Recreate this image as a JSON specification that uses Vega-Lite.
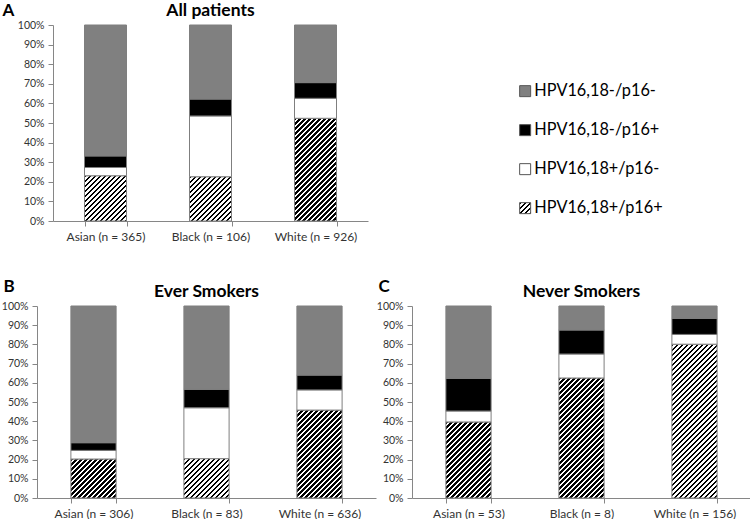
{
  "$schema": "https://vega.github.io/schema/vega-lite/v6.json",
  "padding": {"left": 1, "top": 1, "right": 0, "bottom": 0},
  "params": [
    {"name": "hatchStops", "value": [
      {"offset":0,"color":"#000"},{"offset":0.0102,"color":"#000"},{"offset":0.0102,"color":"#fff"},{"offset":0.0227,"color":"#fff"},
      {"offset":0.0227,"color":"#000"},{"offset":0.0330,"color":"#000"},{"offset":0.0330,"color":"#fff"},{"offset":0.0455,"color":"#fff"},
      {"offset":0.0455,"color":"#000"},{"offset":0.0557,"color":"#000"},{"offset":0.0557,"color":"#fff"},{"offset":0.0682,"color":"#fff"},
      {"offset":0.0682,"color":"#000"},{"offset":0.0784,"color":"#000"},{"offset":0.0784,"color":"#fff"},{"offset":0.0909,"color":"#fff"},
      {"offset":0.0909,"color":"#000"},{"offset":0.1011,"color":"#000"},{"offset":0.1011,"color":"#fff"},{"offset":0.1136,"color":"#fff"},
      {"offset":0.1136,"color":"#000"},{"offset":0.1239,"color":"#000"},{"offset":0.1239,"color":"#fff"},{"offset":0.1364,"color":"#fff"},
      {"offset":0.1364,"color":"#000"},{"offset":0.1466,"color":"#000"},{"offset":0.1466,"color":"#fff"},{"offset":0.1591,"color":"#fff"},
      {"offset":0.1591,"color":"#000"},{"offset":0.1693,"color":"#000"},{"offset":0.1693,"color":"#fff"},{"offset":0.1818,"color":"#fff"},
      {"offset":0.1818,"color":"#000"},{"offset":0.1920,"color":"#000"},{"offset":0.1920,"color":"#fff"},{"offset":0.2045,"color":"#fff"},
      {"offset":0.2045,"color":"#000"},{"offset":0.2148,"color":"#000"},{"offset":0.2148,"color":"#fff"},{"offset":0.2273,"color":"#fff"},
      {"offset":0.2273,"color":"#000"},{"offset":0.2375,"color":"#000"},{"offset":0.2375,"color":"#fff"},{"offset":0.2500,"color":"#fff"},
      {"offset":0.2500,"color":"#000"},{"offset":0.2602,"color":"#000"},{"offset":0.2602,"color":"#fff"},{"offset":0.2727,"color":"#fff"},
      {"offset":0.2727,"color":"#000"},{"offset":0.2830,"color":"#000"},{"offset":0.2830,"color":"#fff"},{"offset":0.2955,"color":"#fff"},
      {"offset":0.2955,"color":"#000"},{"offset":0.3057,"color":"#000"},{"offset":0.3057,"color":"#fff"},{"offset":0.3182,"color":"#fff"},
      {"offset":0.3182,"color":"#000"},{"offset":0.3284,"color":"#000"},{"offset":0.3284,"color":"#fff"},{"offset":0.3409,"color":"#fff"},
      {"offset":0.3409,"color":"#000"},{"offset":0.3511,"color":"#000"},{"offset":0.3511,"color":"#fff"},{"offset":0.3636,"color":"#fff"},
      {"offset":0.3636,"color":"#000"},{"offset":0.3739,"color":"#000"},{"offset":0.3739,"color":"#fff"},{"offset":0.3864,"color":"#fff"},
      {"offset":0.3864,"color":"#000"},{"offset":0.3966,"color":"#000"},{"offset":0.3966,"color":"#fff"},{"offset":0.4091,"color":"#fff"},
      {"offset":0.4091,"color":"#000"},{"offset":0.4193,"color":"#000"},{"offset":0.4193,"color":"#fff"},{"offset":0.4318,"color":"#fff"},
      {"offset":0.4318,"color":"#000"},{"offset":0.4420,"color":"#000"},{"offset":0.4420,"color":"#fff"},{"offset":0.4545,"color":"#fff"},
      {"offset":0.4545,"color":"#000"},{"offset":0.4648,"color":"#000"},{"offset":0.4648,"color":"#fff"},{"offset":0.4773,"color":"#fff"},
      {"offset":0.4773,"color":"#000"},{"offset":0.4875,"color":"#000"},{"offset":0.4875,"color":"#fff"},{"offset":0.5000,"color":"#fff"},
      {"offset":0.5000,"color":"#000"},{"offset":0.5102,"color":"#000"},{"offset":0.5102,"color":"#fff"},{"offset":0.5227,"color":"#fff"},
      {"offset":0.5227,"color":"#000"},{"offset":0.5330,"color":"#000"},{"offset":0.5330,"color":"#fff"},{"offset":0.5455,"color":"#fff"},
      {"offset":0.5455,"color":"#000"},{"offset":0.5557,"color":"#000"},{"offset":0.5557,"color":"#fff"},{"offset":0.5682,"color":"#fff"},
      {"offset":0.5682,"color":"#000"},{"offset":0.5784,"color":"#000"},{"offset":0.5784,"color":"#fff"},{"offset":0.5909,"color":"#fff"},
      {"offset":0.5909,"color":"#000"},{"offset":0.6011,"color":"#000"},{"offset":0.6011,"color":"#fff"},{"offset":0.6136,"color":"#fff"},
      {"offset":0.6136,"color":"#000"},{"offset":0.6239,"color":"#000"},{"offset":0.6239,"color":"#fff"},{"offset":0.6364,"color":"#fff"},
      {"offset":0.6364,"color":"#000"},{"offset":0.6466,"color":"#000"},{"offset":0.6466,"color":"#fff"},{"offset":0.6591,"color":"#fff"},
      {"offset":0.6591,"color":"#000"},{"offset":0.6693,"color":"#000"},{"offset":0.6693,"color":"#fff"},{"offset":0.6818,"color":"#fff"},
      {"offset":0.6818,"color":"#000"},{"offset":0.6920,"color":"#000"},{"offset":0.6920,"color":"#fff"},{"offset":0.7045,"color":"#fff"},
      {"offset":0.7045,"color":"#000"},{"offset":0.7148,"color":"#000"},{"offset":0.7148,"color":"#fff"},{"offset":0.7273,"color":"#fff"},
      {"offset":0.7273,"color":"#000"},{"offset":0.7375,"color":"#000"},{"offset":0.7375,"color":"#fff"},{"offset":0.7500,"color":"#fff"},
      {"offset":0.7500,"color":"#000"},{"offset":0.7602,"color":"#000"},{"offset":0.7602,"color":"#fff"},{"offset":0.7727,"color":"#fff"},
      {"offset":0.7727,"color":"#000"},{"offset":0.7830,"color":"#000"},{"offset":0.7830,"color":"#fff"},{"offset":0.7955,"color":"#fff"},
      {"offset":0.7955,"color":"#000"},{"offset":0.8057,"color":"#000"},{"offset":0.8057,"color":"#fff"},{"offset":0.8182,"color":"#fff"},
      {"offset":0.8182,"color":"#000"},{"offset":0.8284,"color":"#000"},{"offset":0.8284,"color":"#fff"},{"offset":0.8409,"color":"#fff"},
      {"offset":0.8409,"color":"#000"},{"offset":0.8511,"color":"#000"},{"offset":0.8511,"color":"#fff"},{"offset":0.8636,"color":"#fff"},
      {"offset":0.8636,"color":"#000"},{"offset":0.8739,"color":"#000"},{"offset":0.8739,"color":"#fff"},{"offset":0.8864,"color":"#fff"},
      {"offset":0.8864,"color":"#000"},{"offset":0.8966,"color":"#000"},{"offset":0.8966,"color":"#fff"},{"offset":0.9091,"color":"#fff"},
      {"offset":0.9091,"color":"#000"},{"offset":0.9193,"color":"#000"},{"offset":0.9193,"color":"#fff"},{"offset":0.9318,"color":"#fff"},
      {"offset":0.9318,"color":"#000"},{"offset":0.9420,"color":"#000"},{"offset":0.9420,"color":"#fff"},{"offset":0.9545,"color":"#fff"},
      {"offset":0.9545,"color":"#000"},{"offset":0.9648,"color":"#000"},{"offset":0.9648,"color":"#fff"},{"offset":0.9773,"color":"#fff"},
      {"offset":0.9773,"color":"#000"},{"offset":0.9875,"color":"#000"},{"offset":0.9875,"color":"#fff"},{"offset":1,"color":"#fff"}
    ]}
  ],
  "datasets": {
    "bars": [
      {"panel":"A","race":"Asian (n = 365)","status":"HPV16,18+/p16+","pct":23.1},
      {"panel":"A","race":"Asian (n = 365)","status":"HPV16,18+/p16-","pct":4.2},
      {"panel":"A","race":"Asian (n = 365)","status":"HPV16,18-/p16+","pct":5.9},
      {"panel":"A","race":"Asian (n = 365)","status":"HPV16,18-/p16-","pct":66.8},
      {"panel":"A","race":"Black (n = 106)","status":"HPV16,18+/p16+","pct":22.6},
      {"panel":"A","race":"Black (n = 106)","status":"HPV16,18+/p16-","pct":31.0},
      {"panel":"A","race":"Black (n = 106)","status":"HPV16,18-/p16+","pct":8.6},
      {"panel":"A","race":"Black (n = 106)","status":"HPV16,18-/p16-","pct":37.8},
      {"panel":"A","race":"White (n = 926)","status":"HPV16,18+/p16+","pct":52.4},
      {"panel":"A","race":"White (n = 926)","status":"HPV16,18+/p16-","pct":10.2},
      {"panel":"A","race":"White (n = 926)","status":"HPV16,18-/p16+","pct":8.0},
      {"panel":"A","race":"White (n = 926)","status":"HPV16,18-/p16-","pct":29.4},
      {"panel":"B","race":"Asian (n = 306)","status":"HPV16,18+/p16+","pct":20.3},
      {"panel":"B","race":"Asian (n = 306)","status":"HPV16,18+/p16-","pct":4.5},
      {"panel":"B","race":"Asian (n = 306)","status":"HPV16,18-/p16+","pct":4.0},
      {"panel":"B","race":"Asian (n = 306)","status":"HPV16,18-/p16-","pct":71.2},
      {"panel":"B","race":"Black (n = 83)","status":"HPV16,18+/p16+","pct":20.5},
      {"panel":"B","race":"Black (n = 83)","status":"HPV16,18+/p16-","pct":26.5},
      {"panel":"B","race":"Black (n = 83)","status":"HPV16,18-/p16+","pct":9.6},
      {"panel":"B","race":"Black (n = 83)","status":"HPV16,18-/p16-","pct":43.4},
      {"panel":"B","race":"White (n = 636)","status":"HPV16,18+/p16+","pct":45.8},
      {"panel":"B","race":"White (n = 636)","status":"HPV16,18+/p16-","pct":10.5},
      {"panel":"B","race":"White (n = 636)","status":"HPV16,18-/p16+","pct":7.7},
      {"panel":"B","race":"White (n = 636)","status":"HPV16,18-/p16-","pct":36.0},
      {"panel":"C","race":"Asian (n = 53)","status":"HPV16,18+/p16+","pct":39.6},
      {"panel":"C","race":"Asian (n = 53)","status":"HPV16,18+/p16-","pct":5.7},
      {"panel":"C","race":"Asian (n = 53)","status":"HPV16,18-/p16+","pct":17.0},
      {"panel":"C","race":"Asian (n = 53)","status":"HPV16,18-/p16-","pct":37.7},
      {"panel":"C","race":"Black (n = 8)","status":"HPV16,18+/p16+","pct":62.5},
      {"panel":"C","race":"Black (n = 8)","status":"HPV16,18+/p16-","pct":12.5},
      {"panel":"C","race":"Black (n = 8)","status":"HPV16,18-/p16+","pct":12.5},
      {"panel":"C","race":"Black (n = 8)","status":"HPV16,18-/p16-","pct":12.5},
      {"panel":"C","race":"White (n = 156)","status":"HPV16,18+/p16+","pct":80.1},
      {"panel":"C","race":"White (n = 156)","status":"HPV16,18+/p16-","pct":5.1},
      {"panel":"C","race":"White (n = 156)","status":"HPV16,18-/p16+","pct":8.3},
      {"panel":"C","race":"White (n = 156)","status":"HPV16,18-/p16-","pct":6.5}
    ]
  },
  "config": {
    "view": {"stroke": null},
    "font": "Lato",
    "axis": {
      "labelFont": "Lato", "labelColor": "#333333", "domainColor": "#868686", "tickColor": "#868686",
      "tickSize": 5, "grid": false,
      "titleFont": "Lato", "titleFontSize": 17, "titleFontWeight": "bold", "titleColor": "#000000"
    },
    "title": {"font": "Lato", "fontSize": 17.5, "fontWeight": "bold", "color": "#000000", "frame": "group", "anchor": "middle"}
  },
  "resolve": {"scale": {"fill": "independent"}, "legend": {"fill": "independent"}},
  "columns": 1,
  "align": "none",
  "spacing": 35,
  "concat": [
    {
      "width": 331, "height": 196,
      "data": {"name": "bars"},
      "transform": [{"filter": "datum.panel === 'A'"}],
      "title": {"text": "All patients", "offset": -18, "dx": 8},
      "mark": {"type": "bar", "stroke": "#7f7f7f", "strokeWidth": 1},
      "encoding": {
        "x": {"field": "race", "type": "nominal", "sort": null,
              "scale": {"range": [16, 331], "paddingInner": 0.6, "paddingOuter": 0.3},
              "axis": {"title": null, "labelAngle": 0, "tickBand": "extent", "labelFontSize": 12, "labelPadding": 5}},
        "y": {"field": "pct", "type": "quantitative", "stack": "zero",
              "scale": {"domain": [0, 100], "nice": false},
              "axis": {"offset": -16, "values": [0,10,20,30,40,50,60,70,80,90,100], "labelExpr": "datum.value + '%'", "labelFontSize": 10.5, "labelPadding": 4,
                       "title": "A", "titleAngle": 0, "titleAlign": "left", "titleBaseline": "alphabetic", "titleX": -51, "titleY": -10}},
        "order": {"field": "status", "sort": "ascending"},
        "fill": {
          "condition": {"test": "datum.status === 'HPV16,18+/p16+'",
                        "value": {"expr": "{gradient: 'linear', x1: 0, y1: 0, x2: 220*42/(1764+pow(datum.pct*1.96,2)), y2: 220*datum.pct*1.96/(1764+pow(datum.pct*1.96,2)), stops: hatchStops}"}},
          "field": "status", "type": "nominal",
          "scale": {"domain": ["HPV16,18-/p16-","HPV16,18-/p16+","HPV16,18+/p16-","HPV16,18+/p16+"],
                    "range": ["#808080","#000000","#ffffff", {"expr": "{gradient: 'linear', x1: 0, y1: 0, x2: 10, y2: 10, stops: hatchStops}"}]},
          "legend": {
            "title": null, "orient": "none", "legendX": 480, "legendY": 58, "padding": 0,
            "symbolType": "square", "symbolSize": 121, "symbolStrokeColor": "#555555", "symbolStrokeWidth": 1,
            "labelFont": "Lato", "labelFontSize": 16.3, "labelColor": "#000000", "labelOffset": 1, "rowPadding": 22,
            "encode": {"symbols": {"update": {
              "stroke": {"value": "#555555"},
              "strokeWidth": {"value": 1},
              "opacity": {"value": 1}
            }}}
          }
        }
      }
    },
    {
      "spacing": 0,
      "resolve": {"scale": {"fill": "independent"}, "legend": {"fill": "independent"}},
      "hconcat": [
        {
          "width": 339, "height": 192,
          "data": {"name": "bars"},
          "transform": [{"filter": "datum.panel === 'B'"}],
          "title": {"text": "Ever Smokers", "offset": -23},
          "mark": {"type": "bar", "stroke": "#7f7f7f", "strokeWidth": 1},
          "encoding": {
            "x": {"field": "race", "type": "nominal", "sort": null,
                  "scale": {"paddingInner": 0.6, "paddingOuter": 0.3},
                  "axis": {"title": null, "labelAngle": 0, "tickBand": "extent", "labelFontSize": 12, "labelPadding": 5}},
            "y": {"field": "pct", "type": "quantitative", "stack": "zero",
                  "scale": {"domain": [0, 100], "nice": false},
                  "axis": {"values": [0,10,20,30,40,50,60,70,80,90,100], "labelExpr": "datum.value + '%'", "labelFontSize": 10.5, "labelPadding": 4,
                           "title": "B", "titleAngle": 0, "titleAlign": "left", "titleBaseline": "alphabetic", "titleX": -34, "titleY": -15}},
            "order": {"field": "status", "sort": "ascending"},
            "fill": {
              "condition": {"test": "datum.status === 'HPV16,18+/p16+'",
                            "value": {"expr": "{gradient: 'linear', x1: 0, y1: 0, x2: 220*45.2/(2043+pow(datum.pct*1.92,2)), y2: 220*datum.pct*1.92/(2043+pow(datum.pct*1.92,2)), stops: hatchStops}"}},
              "field": "status", "type": "nominal",
              "scale": {"domain": ["HPV16,18-/p16-","HPV16,18-/p16+","HPV16,18+/p16-","HPV16,18+/p16+"], "range": ["#808080","#000000","#ffffff","#ffffff"]},
              "legend": null
            }
          }
        },
        {
          "width": 339, "height": 192,
          "data": {"name": "bars"},
          "transform": [{"filter": "datum.panel === 'C'"}],
          "title": {"text": "Never Smokers", "offset": -23},
          "mark": {"type": "bar", "stroke": "#7f7f7f", "strokeWidth": 1},
          "encoding": {
            "x": {"field": "race", "type": "nominal", "sort": null,
                  "scale": {"paddingInner": 0.6, "paddingOuter": 0.3},
                  "axis": {"title": null, "labelAngle": 0, "tickBand": "extent", "labelFontSize": 12, "labelPadding": 5}},
            "y": {"field": "pct", "type": "quantitative", "stack": "zero",
                  "scale": {"domain": [0, 100], "nice": false},
                  "axis": {"values": [0,10,20,30,40,50,60,70,80,90,100], "labelExpr": "datum.value + '%'", "labelFontSize": 10.5, "labelPadding": 4,
                           "title": "C", "titleAngle": 0, "titleAlign": "left", "titleBaseline": "alphabetic", "titleX": -34, "titleY": -15}},
            "order": {"field": "status", "sort": "ascending"},
            "fill": {
              "condition": {"test": "datum.status === 'HPV16,18+/p16+'",
                            "value": {"expr": "{gradient: 'linear', x1: 0, y1: 0, x2: 220*45.2/(2043+pow(datum.pct*1.92,2)), y2: 220*datum.pct*1.92/(2043+pow(datum.pct*1.92,2)), stops: hatchStops}"}},
              "field": "status", "type": "nominal",
              "scale": {"domain": ["HPV16,18-/p16-","HPV16,18-/p16+","HPV16,18+/p16-","HPV16,18+/p16+"], "range": ["#808080","#000000","#ffffff","#ffffff"]},
              "legend": null
            }
          }
        }
      ]
    }
  ]
}
